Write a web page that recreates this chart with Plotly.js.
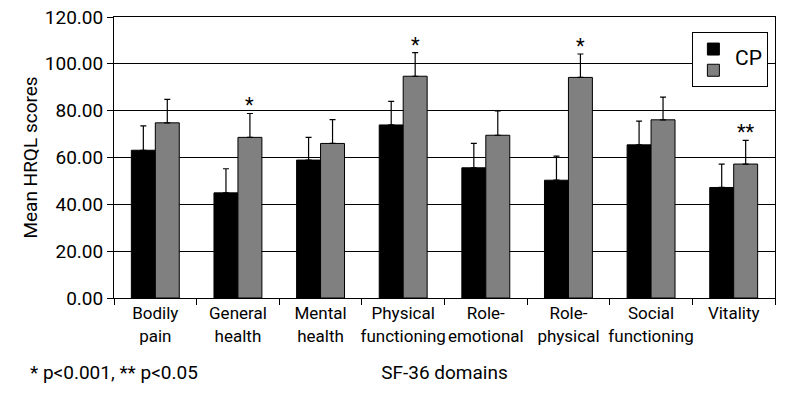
<!DOCTYPE html>
<html>
<head>
<meta charset="utf-8">
<script src="https://cdn.plot.ly/plotly-3.0.1.min.js"></script>
<style>html,body{margin:0;padding:0;background:#fff;}#chart{width:800px;height:400px;}</style>
</head>
<body>
<div id="chart"></div>
<script>
const categories = ["Bodily<br>pain", "General<br>health", "Mental<br>health", "Physical<br>functioning", "Role-<br>emotional", "Role-<br>physical", "Social<br>functioning", "Vitality"];
const controlMeans = [63.1, 44.9, 58.9, 73.9, 55.6, 50.3, 65.4, 47.2];
const controlErr   = [10.4, 10.3, 9.7, 10.1, 10.4, 10.3, 10.1, 10.0];
const cpMeans      = [74.8, 68.6, 66.0, 94.7, 69.5, 94.2, 76.1, 57.2];
const cpErr        = [10.0, 10.2, 10.2, 10.1, 10.4, 10.0, 9.7, 10.1];
const sigMarks     = ["", "*", "", "*", "", "*", "", "**"];
const yTicks       = [0, 20, 40, 60, 80, 100, 120];

const FAM = "Roboto, Liberation Sans, sans-serif";
const mkFont = (size) => ({family: FAM, size: size, color: "#000"});
const BARGAP = 0.42;
const cpOffset = (1 - BARGAP) / 4;

const traces = [
  {
    type: "bar", name: "\u2003\u2003", x: categories, y: controlMeans,
    marker: {color: "#000000", line: {color: "#000000", width: 1}},
    error_y: {type: "data", symmetric: false, array: controlErr, arrayminus: controlErr.map(() => 0), color: "#000", thickness: 1.2, width: 3}
  },
  {
    type: "bar", name: "\u2003\u2003", x: categories, y: cpMeans,
    marker: {color: "#808080", line: {color: "#000000", width: 1}},
    error_y: {type: "data", symmetric: false, array: cpErr, arrayminus: cpErr.map(() => 0), color: "#000", thickness: 1.2, width: 3}
  }
];

const annotations = [];
sigMarks.forEach((m, i) => {
  if (!m) return;
  annotations.push({
    x: i + cpOffset, y: cpMeans[i] + cpErr[i], xref: "x", yref: "y",
    text: m, showarrow: false, yanchor: "bottom", yshift: -6,
    font: mkFont(20)
  });
});
annotations.push({
  xref: "paper", yref: "paper", x: 0.96, y: 0.855, text: "CP", showarrow: false,
  xanchor: "center", yanchor: "middle", font: mkFont(21)
});
annotations.push({
  xref: "paper", yref: "paper", x: -0.13, y: -0.265, text: "* p<0.001, ** p<0.05", showarrow: false,
  xanchor: "left", yanchor: "middle", font: mkFont(19)
});

const layout = {
  width: 800, height: 400,
  margin: {l: 114, r: 25, t: 17, b: 102},
  paper_bgcolor: "#fff", plot_bgcolor: "#fff",
  font: mkFont(18),
  barmode: "group", bargap: BARGAP, bargroupgap: 0,
  showlegend: true,
  legend: {
    x: 0.875, y: 0.945, xanchor: "left", yanchor: "top",
    bgcolor: "#fff", bordercolor: "#000", borderwidth: 1,
    font: mkFont(14),
    itemwidth: 30, tracegroupgap: 0
  },
  xaxis: {
    type: "category", tickson: "boundaries", ticks: "outside", ticklen: 6, tickcolor: "#000",
    showline: true, linecolor: "#000", linewidth: 1, mirror: true,
    showgrid: false, automargin: false, tickangle: 0,
    tickfont: mkFont(17),
    title: {text: "SF-36 domains", font: mkFont(19), standoff: 21}
  },
  yaxis: {
    range: [0, 120], tickvals: yTicks, tickformat: ".2f",
    ticks: "outside", ticklen: 6, tickcolor: "#000",
    showline: true, linecolor: "#000", linewidth: 1, mirror: true,
    showgrid: true, gridcolor: "#000", gridwidth: 1, zeroline: false, automargin: false,
    tickfont: mkFont(19),
    title: {text: "Mean HRQL scores", font: mkFont(19), standoff: 2}
  },
  annotations: annotations
};

Plotly.newPlot("chart", traces, layout, {displayModeBar: false, staticPlot: true});
</script>
</body>
</html>
